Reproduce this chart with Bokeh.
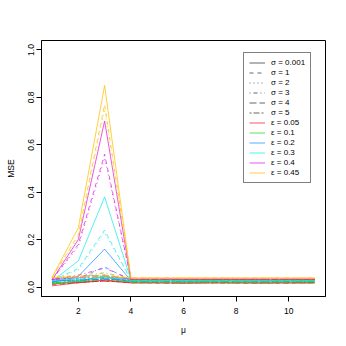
from bokeh.plotting import figure
from bokeh.models import Range1d, Legend, LegendItem, FixedTicker, ColumnDataSource
from bokeh.embed import file_html
from bokeh.resources import INLINE

mu = [1, 2, 3, 4, 5, 6, 7, 8, 9, 10, 11]
sigma_labels = ["σ = 0.001", "σ = 1", "σ = 2", "σ = 3", "σ = 4", "σ = 5"]
eps_labels = ["ε = 0.05", "ε = 0.1", "ε = 0.2", "ε = 0.3", "ε = 0.4", "ε = 0.45"]

# rows: sigma = 0.001, 1, 2, 3, 4, 5 ; columns: mu = 1..11
mse_eps_005 = [
    [0.005, 0.018, 0.030, 0.017, 0.017, 0.016, 0.017, 0.017, 0.016, 0.017, 0.017],
    [0.010, 0.018, 0.028, 0.018, 0.017, 0.017, 0.018, 0.017, 0.017, 0.017, 0.018],
    [0.012, 0.019, 0.027, 0.018, 0.018, 0.017, 0.017, 0.018, 0.017, 0.018, 0.017],
    [0.014, 0.019, 0.026, 0.019, 0.018, 0.018, 0.018, 0.018, 0.018, 0.018, 0.018],
    [0.015, 0.020, 0.025, 0.019, 0.019, 0.018, 0.019, 0.018, 0.019, 0.018, 0.019],
    [0.016, 0.020, 0.025, 0.020, 0.019, 0.019, 0.019, 0.019, 0.019, 0.019, 0.019],
]
mse_eps_01 = [
    [0.012, 0.025, 0.045, 0.021, 0.021, 0.020, 0.021, 0.021, 0.020, 0.021, 0.021],
    [0.015, 0.024, 0.042, 0.021, 0.021, 0.021, 0.021, 0.020, 0.021, 0.021, 0.021],
    [0.017, 0.024, 0.040, 0.022, 0.021, 0.021, 0.022, 0.021, 0.021, 0.022, 0.021],
    [0.018, 0.023, 0.036, 0.022, 0.022, 0.022, 0.022, 0.022, 0.022, 0.022, 0.022],
    [0.019, 0.023, 0.034, 0.022, 0.022, 0.022, 0.022, 0.022, 0.022, 0.022, 0.022],
    [0.020, 0.023, 0.031, 0.023, 0.023, 0.022, 0.023, 0.023, 0.022, 0.023, 0.023],
]
mse_eps_02 = [
    [0.020, 0.045, 0.160, 0.027, 0.027, 0.026, 0.027, 0.027, 0.026, 0.027, 0.027],
    [0.022, 0.036, 0.085, 0.027, 0.027, 0.027, 0.027, 0.027, 0.027, 0.027, 0.027],
    [0.024, 0.032, 0.050, 0.027, 0.028, 0.027, 0.027, 0.028, 0.027, 0.027, 0.028],
    [0.025, 0.030, 0.040, 0.028, 0.028, 0.028, 0.028, 0.028, 0.028, 0.028, 0.028],
    [0.026, 0.029, 0.035, 0.028, 0.028, 0.028, 0.028, 0.028, 0.028, 0.028, 0.028],
    [0.026, 0.029, 0.033, 0.028, 0.028, 0.028, 0.028, 0.028, 0.028, 0.028, 0.028],
]
mse_eps_03 = [
    [0.025, 0.110, 0.380, 0.030, 0.029, 0.029, 0.029, 0.029, 0.029, 0.029, 0.029],
    [0.027, 0.078, 0.240, 0.030, 0.030, 0.029, 0.030, 0.029, 0.030, 0.029, 0.030],
    [0.028, 0.072, 0.230, 0.030, 0.030, 0.030, 0.030, 0.030, 0.030, 0.030, 0.030],
    [0.028, 0.040, 0.060, 0.030, 0.030, 0.030, 0.030, 0.030, 0.030, 0.030, 0.030],
    [0.029, 0.036, 0.045, 0.030, 0.030, 0.030, 0.030, 0.030, 0.030, 0.030, 0.030],
    [0.029, 0.034, 0.040, 0.031, 0.030, 0.030, 0.031, 0.030, 0.030, 0.031, 0.030],
]
mse_eps_04 = [
    [0.030, 0.200, 0.700, 0.033, 0.033, 0.033, 0.033, 0.033, 0.033, 0.033, 0.033],
    [0.030, 0.180, 0.560, 0.034, 0.036, 0.035, 0.034, 0.034, 0.034, 0.034, 0.034],
    [0.031, 0.170, 0.545, 0.034, 0.035, 0.036, 0.034, 0.034, 0.034, 0.034, 0.034],
    [0.031, 0.050, 0.080, 0.033, 0.034, 0.033, 0.033, 0.033, 0.033, 0.033, 0.033],
    [0.032, 0.045, 0.050, 0.033, 0.033, 0.033, 0.033, 0.033, 0.033, 0.033, 0.033],
    [0.032, 0.040, 0.045, 0.034, 0.033, 0.033, 0.033, 0.033, 0.033, 0.033, 0.033],
]
mse_eps_045 = [
    [0.040, 0.250, 0.850, 0.037, 0.037, 0.037, 0.037, 0.037, 0.037, 0.037, 0.037],
    [0.040, 0.220, 0.770, 0.038, 0.038, 0.037, 0.038, 0.037, 0.038, 0.037, 0.038],
    [0.040, 0.210, 0.750, 0.038, 0.038, 0.038, 0.037, 0.038, 0.037, 0.038, 0.037],
    [0.040, 0.050, 0.060, 0.037, 0.037, 0.037, 0.037, 0.037, 0.037, 0.037, 0.037],
    [0.039, 0.045, 0.050, 0.037, 0.037, 0.037, 0.037, 0.037, 0.037, 0.037, 0.037],
    [0.039, 0.042, 0.045, 0.037, 0.037, 0.037, 0.037, 0.037, 0.037, 0.037, 0.037],
]
all_eps = [mse_eps_005, mse_eps_01, mse_eps_02, mse_eps_03, mse_eps_04, mse_eps_045]

eps_colors = ["#F0203C", "#30D030", "#1E90FF", "#20E8E8", "#E020E0", "#FFC000"]
sigma_dashes = ["solid", "4 4", "1 3", "1 3 4 3", "7 3", "2 2 6 2"]

FONT = "Liberation Sans"

p = figure(width=346, height=346, output_backend="svg", toolbar_location=None,
           x_range=Range1d(0.6, 11.4), y_range=Range1d(-0.04, 1.04),
           min_border_left=41, min_border_right=21, min_border_top=40, min_border_bottom=50)
p.grid.visible = False
p.outline_line_color = "black"
p.outline_line_width = 1
p.background_fill_color = "white"
p.border_fill_color = "white"

for ei, eps in enumerate(all_eps):
    for si, series in enumerate(eps):
        p.line(mu, series, line_color=eps_colors[ei], line_alpha=0.75,
               line_width=1, line_dash=sigma_dashes[si])

p.xaxis.ticker = FixedTicker(ticks=[2, 4, 6, 8, 10])
p.yaxis.ticker = FixedTicker(ticks=[0.0, 0.2, 0.4, 0.6, 0.8, 1.0])
p.yaxis.major_label_overrides = {0.0: "0.0", 0.2: "0.2", 0.4: "0.4", 0.6: "0.6", 0.8: "0.8", 1.0: "1.0"}
for ax in (p.xaxis, p.yaxis):
    ax.minor_tick_line_color = None
    ax.major_tick_in = 0
    ax.major_tick_out = 5
    ax.axis_line_color = "black"
    ax.major_tick_line_color = "black"
    ax.major_label_text_font = FONT
    ax.major_label_text_font_size = "8.5px"
    ax.major_label_text_color = "black"
    ax.axis_label_text_font = FONT
    ax.axis_label_text_font_size = "8.5px"
    ax.axis_label_text_font_style = "normal"
    ax.axis_label_text_color = "black"
p.xaxis.axis_label = "μ"
p.yaxis.axis_label = "MSE"
p.xaxis.major_label_standoff = 6
p.xaxis.axis_label_standoff = 8
p.yaxis.major_label_orientation = "vertical"
p.yaxis.major_label_standoff = 2
p.yaxis.axis_label_standoff = 10

nan = float("nan")
items = []
for si, lab in enumerate(sigma_labels):
    r = p.line(x="x", y="y", source=ColumnDataSource(dict(x=[nan], y=[nan])),
               line_color="black", line_alpha=0.6, line_width=1, line_dash=sigma_dashes[si])
    items.append(LegendItem(label=lab, renderers=[r]))
for ei, lab in enumerate(eps_labels):
    r = p.line(x="x", y="y", source=ColumnDataSource(dict(x=[nan], y=[nan])),
               line_color=eps_colors[ei], line_alpha=0.5, line_width=1.5)
    items.append(LegendItem(label=lab, renderers=[r]))

legend = Legend(items=items, location=(202, 113))
legend.label_text_font = FONT
legend.label_text_font_size = "8px"
legend.label_text_color = "black"
legend.label_height = 9
legend.glyph_height = 9
legend.glyph_width = 16
legend.spacing = 1
legend.padding = 5
legend.margin = 0
legend.label_standoff = 6
legend.border_line_color = "black"
legend.border_line_width = 1
legend.background_fill_alpha = 1
p.add_layout(legend, "center")

open("out.html", "w").write(file_html(p, INLINE))
